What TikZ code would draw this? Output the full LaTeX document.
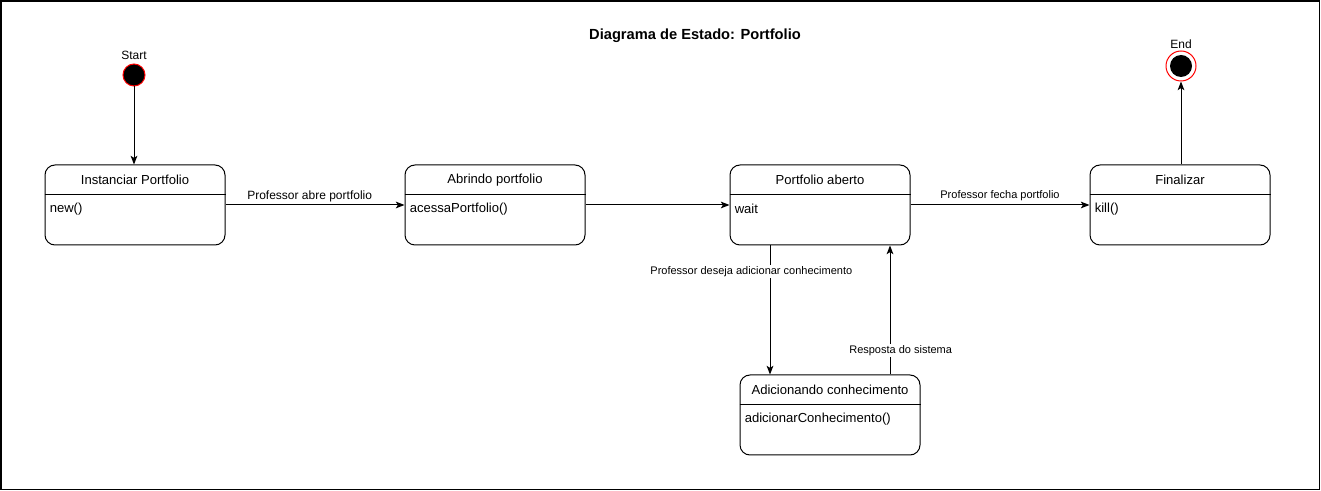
\documentclass[tikz,border=0pt]{standalone}
\usepackage{fontspec}
\setmainfont{Liberation Sans}
\usetikzlibrary{arrows.meta,positioning}
\tikzset{
    state/.style={rectangle,rounded corners=7.5pt,draw,line width=0.75pt,minimum width=135pt,minimum height=60pt,inner sep=0pt},
    statetitle/.style={inner sep=0pt,font=\fontsize{9.8}{11}\selectfont},
    statebody/.style={inner sep=0pt,anchor=west,font=\fontsize{9.8}{11}\selectfont},
    initial/.style={circle,draw=red,fill=black,line width=0.75pt,minimum size=16.5pt,inner sep=0pt},
    final/.style={circle,draw=red,fill=white,line width=0.75pt,minimum size=22.5pt,inner sep=0pt},
    msg/.style={->,> = {Stealth[length=6.5pt,width=5pt,inset=1.5pt]}, line width=0.75pt, draw=black},
    msglabel/.style={inner sep=1pt,font=\fontsize{8.25}{9}\selectfont},
}
% a UML state: name, centre, title, action
\newcommand{\umlstate}[4]{%
    \node[state] (#1) at (#2) {};
    \path (#1.north west) ++(0,-22.5pt) coordinate (#1-dl);
    \draw[line width=0.75pt] (#1-dl) -- (#1-dl -| #1.east);
    \path (#1.north) ++(0,-11.6pt) node[statetitle] (#1-title) {#3};
    \path (#1-dl) ++(3.75pt,-11pt) node[statebody] (#1-body) {#4};
}

\begin{document}
\begin{tikzpicture}[x=0.75pt,y=-0.75pt]
    \useasboundingbox (0,0) rectangle (1321,491);
    \draw[line width=1.1pt] (1,1) rectangle (1319.5,489.5);
    \node[font=\bfseries\fontsize{11}{13}\selectfont] (title) at (695,36) {Diagrama de Estado: Portfolio};

    \node[initial] (start) at (134,75) {};
    \node[font=\fontsize{9}{10}\selectfont,above=3pt of start.north,inner sep=0pt] (startlbl) {Start};
    \node[final] (end) at (1181,66) {};
    \node[circle,fill=black,minimum size=16.5pt,inner sep=0pt] (endin) at (end) {};
    \node[font=\fontsize{9}{10}\selectfont,inner sep=0pt] (endlbl) at (1181,44) {End};

    \umlstate{inst}{135,205}{Instanciar Portfolio}{new()}
    \umlstate{abr}{495,205}{Abrindo portfolio}{acessaPortfolio()}
    \umlstate{aberto}{820,205}{Portfolio aberto}{wait}
    \umlstate{fin}{1180,205}{Finalizar}{kill()}
    \umlstate{adic}{830,415}{Adicionando conhecimento}{adicionarConhecimento()}

    \draw[msg] (start) -- (start |- inst.north);
    \draw[msg] (inst) -- node[msglabel,font=\fontsize{9}{10}\selectfont,above=1pt,xshift=-4pt] {Professor abre portfolio} (abr);
    \draw[msg] (abr) -- (aberto);
    \draw[msg] (aberto) -- node[msglabel,above=1.5pt] {Professor fecha portfolio} (fin);
    \draw[msg] (fin.north -| end) -- (end);
    \draw[msg] ([xshift=-37.5pt]aberto.south) -- node[msglabel,pos=0.2,fill=white,xshift=-14pt] {Professor deseja adicionar conhecimento} ([xshift=-37.5pt]aberto.south |- adic.north);
    \draw[msg] ([xshift=45pt]adic.north) -- node[msglabel,pos=0.185,fill=white,xshift=8pt] {Resposta do sistema} ([xshift=45pt]adic.north |- aberto.south);
\end{tikzpicture}
\end{document}
